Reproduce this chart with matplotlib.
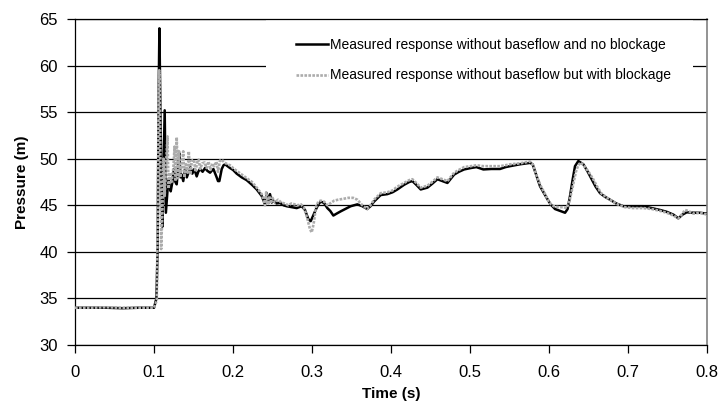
#!/usr/bin/python3

import matplotlib
matplotlib.use('Agg')
import matplotlib.pyplot as plt
from matplotlib.patches import Rectangle


# measured head at the valve, no baseflow, no blockage
time_clear = [
	0.000, 0.020, 0.040, 0.060, 0.080, 0.100, 0.1030, 0.1045, 0.1060, 0.1068,
	0.1075, 0.1090, 0.1105, 0.1120, 0.1135, 0.1150, 0.1165, 0.1181, 0.1196, 0.1211,
	0.1232, 0.1253, 0.1270, 0.1287, 0.1305, 0.1320, 0.1335, 0.1350, 0.1370, 0.1392,
	0.1415, 0.1435, 0.1460, 0.1485, 0.1510, 0.1540, 0.1560, 0.1582, 0.1615, 0.1646,
	0.1675, 0.1709, 0.1730, 0.1751, 0.1775, 0.1793, 0.1810, 0.1827, 0.1857, 0.1880,
	0.1899, 0.1930, 0.1962, 0.2000, 0.2046, 0.2110, 0.2173, 0.2240, 0.2300, 0.2363,
	0.2405, 0.2426, 0.2447, 0.2468, 0.2490, 0.2511, 0.2550, 0.2595, 0.2640, 0.2679,
	0.2740, 0.2806, 0.2869, 0.2911, 0.2954, 0.2983, 0.3010, 0.3046, 0.3080, 0.3110,
	0.3152, 0.3194, 0.3230, 0.3270, 0.3310, 0.3363, 0.3420, 0.3489, 0.3574, 0.3637,
	0.3700, 0.3740, 0.3785, 0.3869, 0.3954, 0.4020, 0.4080, 0.4165, 0.4230, 0.4270,
	0.4320, 0.4376, 0.4461, 0.4520, 0.4587, 0.4650, 0.4714, 0.4799, 0.4860, 0.4925,
	0.5010, 0.5080, 0.5169, 0.5270, 0.5380, 0.5450, 0.5506, 0.5630, 0.5759, 0.5793,
	0.5840, 0.5886, 0.5930, 0.5970, 0.6020, 0.6076, 0.6140, 0.6203, 0.6235, 0.6266,
	0.6300, 0.6329, 0.6371, 0.6435, 0.6490, 0.6540, 0.6590, 0.6646, 0.6710, 0.6772,
	0.6850, 0.6941, 0.7060, 0.7194, 0.7300, 0.7405, 0.7490, 0.7574, 0.7637, 0.7690,
	0.7743, 0.7830, 0.7911, 0.8000,
]
head_clear = [
	34.0, 34.0, 34.0, 33.95, 34.0, 34.0, 35.0, 40.0, 58.0, 64.0,
	59.0, 49.0, 42.7, 49.0, 55.2, 44.2, 46.0, 47.8, 47.0, 46.5,
	47.5, 48.9, 47.5, 47.25, 49.0, 50.6, 48.0, 48.3, 47.6, 48.9,
	48.0, 48.5, 49.1, 48.4, 48.9, 48.1, 48.6, 48.9, 48.6, 49.0,
	48.7, 48.5, 48.7, 48.9, 48.4, 48.0, 47.6, 47.6, 48.9, 49.3,
	49.4, 49.2, 49.0, 48.8, 48.4, 48.0, 47.7, 47.2, 46.7, 46.0,
	45.1, 46.3, 45.25, 46.2, 45.3, 45.5, 45.2, 45.25, 45.0, 44.9,
	44.8, 44.7, 44.9, 44.5, 43.5, 43.3, 43.8, 44.5, 45.1, 45.4,
	45.25, 44.7, 44.4, 43.9, 44.1, 44.35, 44.6, 44.9, 45.1, 44.9,
	44.6, 44.9, 45.4, 46.1, 46.2, 46.4, 46.7, 47.2, 47.5, 47.6,
	47.2, 46.7, 46.9, 47.3, 47.8, 47.6, 47.4, 48.3, 48.6, 48.85,
	49.0, 49.1, 48.85, 48.9, 48.9, 49.1, 49.2, 49.4, 49.55, 49.4,
	48.2, 47.05, 46.4, 45.8, 45.1, 44.6, 44.4, 44.2, 44.6, 46.0,
	47.8, 49.2, 49.75, 49.4, 48.6, 47.8, 47.0, 46.3, 45.9, 45.6,
	45.2, 44.9, 44.9, 44.9, 44.7, 44.5, 44.3, 44.0, 43.6, 44.0,
	44.25, 44.2, 44.2, 44.1,
]

# same test with the blockage installed
time_blocked = [
	0.000, 0.020, 0.040, 0.060, 0.080, 0.100, 0.1035, 0.1048, 0.1058, 0.1066,
	0.1074, 0.1082, 0.1090, 0.1105, 0.1120, 0.1135, 0.1150, 0.1170, 0.1185, 0.1200,
	0.1222, 0.1245, 0.1260, 0.1272, 0.1287, 0.1302, 0.1317, 0.1332, 0.1350, 0.1370,
	0.1385, 0.1405, 0.1425, 0.1440, 0.1458, 0.1480, 0.1505, 0.1525, 0.1545, 0.1565,
	0.1585, 0.1610, 0.1640, 0.1665, 0.1690, 0.1715, 0.1740, 0.1765, 0.1790, 0.1810,
	0.1835, 0.1857, 0.1890, 0.1930, 0.1962, 0.2000, 0.2046, 0.2110, 0.2173, 0.2240,
	0.2300, 0.2363, 0.2405, 0.2420, 0.2440, 0.2460, 0.2480, 0.2500, 0.2530, 0.2570,
	0.2610, 0.2650, 0.2700, 0.2740, 0.2780, 0.2820, 0.2860, 0.2900, 0.2940, 0.2975,
	0.2996, 0.3020, 0.3050, 0.3080, 0.3110, 0.3152, 0.3194, 0.3230, 0.3280, 0.3330,
	0.3400, 0.3460, 0.3520, 0.3574, 0.3637, 0.3700, 0.3740, 0.3785, 0.3869, 0.3954,
	0.4020, 0.4080, 0.4165, 0.4230, 0.4270, 0.4320, 0.4376, 0.4461, 0.4520, 0.4587,
	0.4650, 0.4714, 0.4799, 0.4860, 0.4925, 0.5010, 0.5080, 0.5169, 0.5270, 0.5380,
	0.5450, 0.5506, 0.5630, 0.5759, 0.5800, 0.5850, 0.5900, 0.5950, 0.6000, 0.6060,
	0.6120, 0.6180, 0.6224, 0.6260, 0.6300, 0.6340, 0.6370, 0.6401, 0.6440, 0.6500,
	0.6560, 0.6610, 0.6660, 0.6720, 0.6790, 0.6870, 0.6960, 0.7060, 0.7194, 0.7300,
	0.7405, 0.7490, 0.7574, 0.7637, 0.7690, 0.7720, 0.7760, 0.7830, 0.7911, 0.8000,
]
head_blocked = [
	34.0, 34.0, 34.05, 34.0, 34.0, 34.0, 34.8, 45.0, 57.0, 59.5,
	58.0, 48.0, 40.3, 44.0, 50.0, 46.0, 49.0, 52.4, 46.8, 48.5,
	47.5, 49.0, 51.3, 47.6, 52.3, 47.9, 50.8, 48.0, 49.2, 50.8,
	48.0, 49.4, 48.5, 50.8, 48.3, 49.8, 49.9, 48.6, 49.6, 49.9,
	48.9, 49.5, 49.6, 49.0, 49.7, 48.8, 49.5, 49.2, 49.7, 48.6,
	49.8, 49.9, 49.6, 49.4, 49.3, 49.0, 48.7, 48.3, 47.9, 47.5,
	46.9, 46.2, 45.0, 46.4, 45.1, 46.0, 45.2, 45.8, 45.3, 45.6,
	45.3, 45.2, 45.0, 45.2, 45.1, 45.0, 45.1, 44.7, 43.6, 42.4,
	42.1, 43.0, 44.8, 45.4, 45.5, 45.4, 45.0, 45.2, 45.5, 45.6,
	45.7, 45.8, 45.8, 45.6, 45.0, 44.6, 45.0, 45.6, 46.3, 46.4,
	46.6, 47.0, 47.4, 47.7, 47.8, 47.4, 46.9, 47.1, 47.5, 48.0,
	47.8, 47.6, 48.5, 48.8, 49.1, 49.2, 49.3, 49.2, 49.2, 49.2,
	49.3, 49.4, 49.5, 49.7, 49.3, 48.0, 47.0, 46.2, 45.3, 44.9,
	44.8, 44.8, 44.7, 45.5, 47.0, 48.6, 49.3, 49.6, 49.3, 48.6,
	47.8, 47.0, 46.3, 45.9, 45.5, 45.1, 44.8, 44.7, 44.7, 44.6,
	44.4, 44.2, 43.9, 43.6, 44.1, 44.5, 44.4, 44.1, 44.2, 44.0,
]

labels = [
	'Measured response without baseflow and no blockage',
	'Measured response without baseflow but with blockage',
]
x_ticks = [0, 0.1, 0.2, 0.3, 0.4, 0.5, 0.6, 0.7, 0.8]
x_ticklabels = ['0', '0.1', '0.2', '0.3', '0.4', '0.5', '0.6', '0.7', '0.8']
y_ticks = [30, 35, 40, 45, 50, 55, 60, 65]


def plot_responses(savename: str) -> None:
	"""
		Pressure trace of both tests on one set of axes.
	"""
	assert len(time_clear) == len(head_clear)
	assert len(time_blocked) == len(head_blocked)

	plt.rcParams['font.family'] = ['Liberation Sans', 'DejaVu Sans']
	fig = plt.figure(figsize=(7.18, 4.08), dpi=100)
	ax = fig.add_axes([0.1045, 0.1544, 0.8802, 0.7990])

	ax.set_axisbelow(True)
	ax.yaxis.grid(True, color='black', linewidth=0.9)

	# white patch behind the legend, it hides the grid there
	ax.add_patch(Rectangle((0.302, 0.775), 0.676, 0.225, transform=ax.transAxes,
		facecolor='white', edgecolor='none', zorder=1))

	ax.plot(time_clear, head_clear, color='black', linewidth=1.8, zorder=3,
		label=labels[0])
	ax.plot(time_blocked, head_blocked, color='#acacac', linewidth=1.9,
		linestyle=(0, (1, 0.5)), zorder=4, label=labels[1])

	ax.set_xlim(0, 0.8)
	ax.set_ylim(30, 65)
	ax.set_xticks(x_ticks)
	ax.set_xticklabels(x_ticklabels)
	ax.set_yticks(y_ticks)
	ax.tick_params(axis='both', direction='out', length=6, width=0.9,
		labelsize=12, color='black')
	ax.tick_params(axis='x', pad=8.5)
	ax.tick_params(axis='y', pad=6.3)

	for side in ['left', 'bottom', 'top']:
		ax.spines[side].set_color('black')
		ax.spines[side].set_linewidth(0.9)
	ax.spines['right'].set_color('#808080')
	ax.spines['right'].set_linewidth(1.2)

	ax.set_xlabel('Time (s)', fontsize=11, fontweight='bold')
	ax.set_ylabel('Pressure (m)', fontsize=11, fontweight='bold')
	ax.xaxis.set_label_coords(0.5, -0.129)
	ax.yaxis.set_label_coords(-0.0728, 0.5)

	ax.legend(loc='center', bbox_to_anchor=(0.6457, 0.874), frameon=False,
		fontsize=10, handlelength=2.3, handletextpad=0.15, labelspacing=1.2)

	plt.savefig(savename, dpi=100)
	plt.close('all')


if __name__ == '__main__':
	plot_responses('out.png')
